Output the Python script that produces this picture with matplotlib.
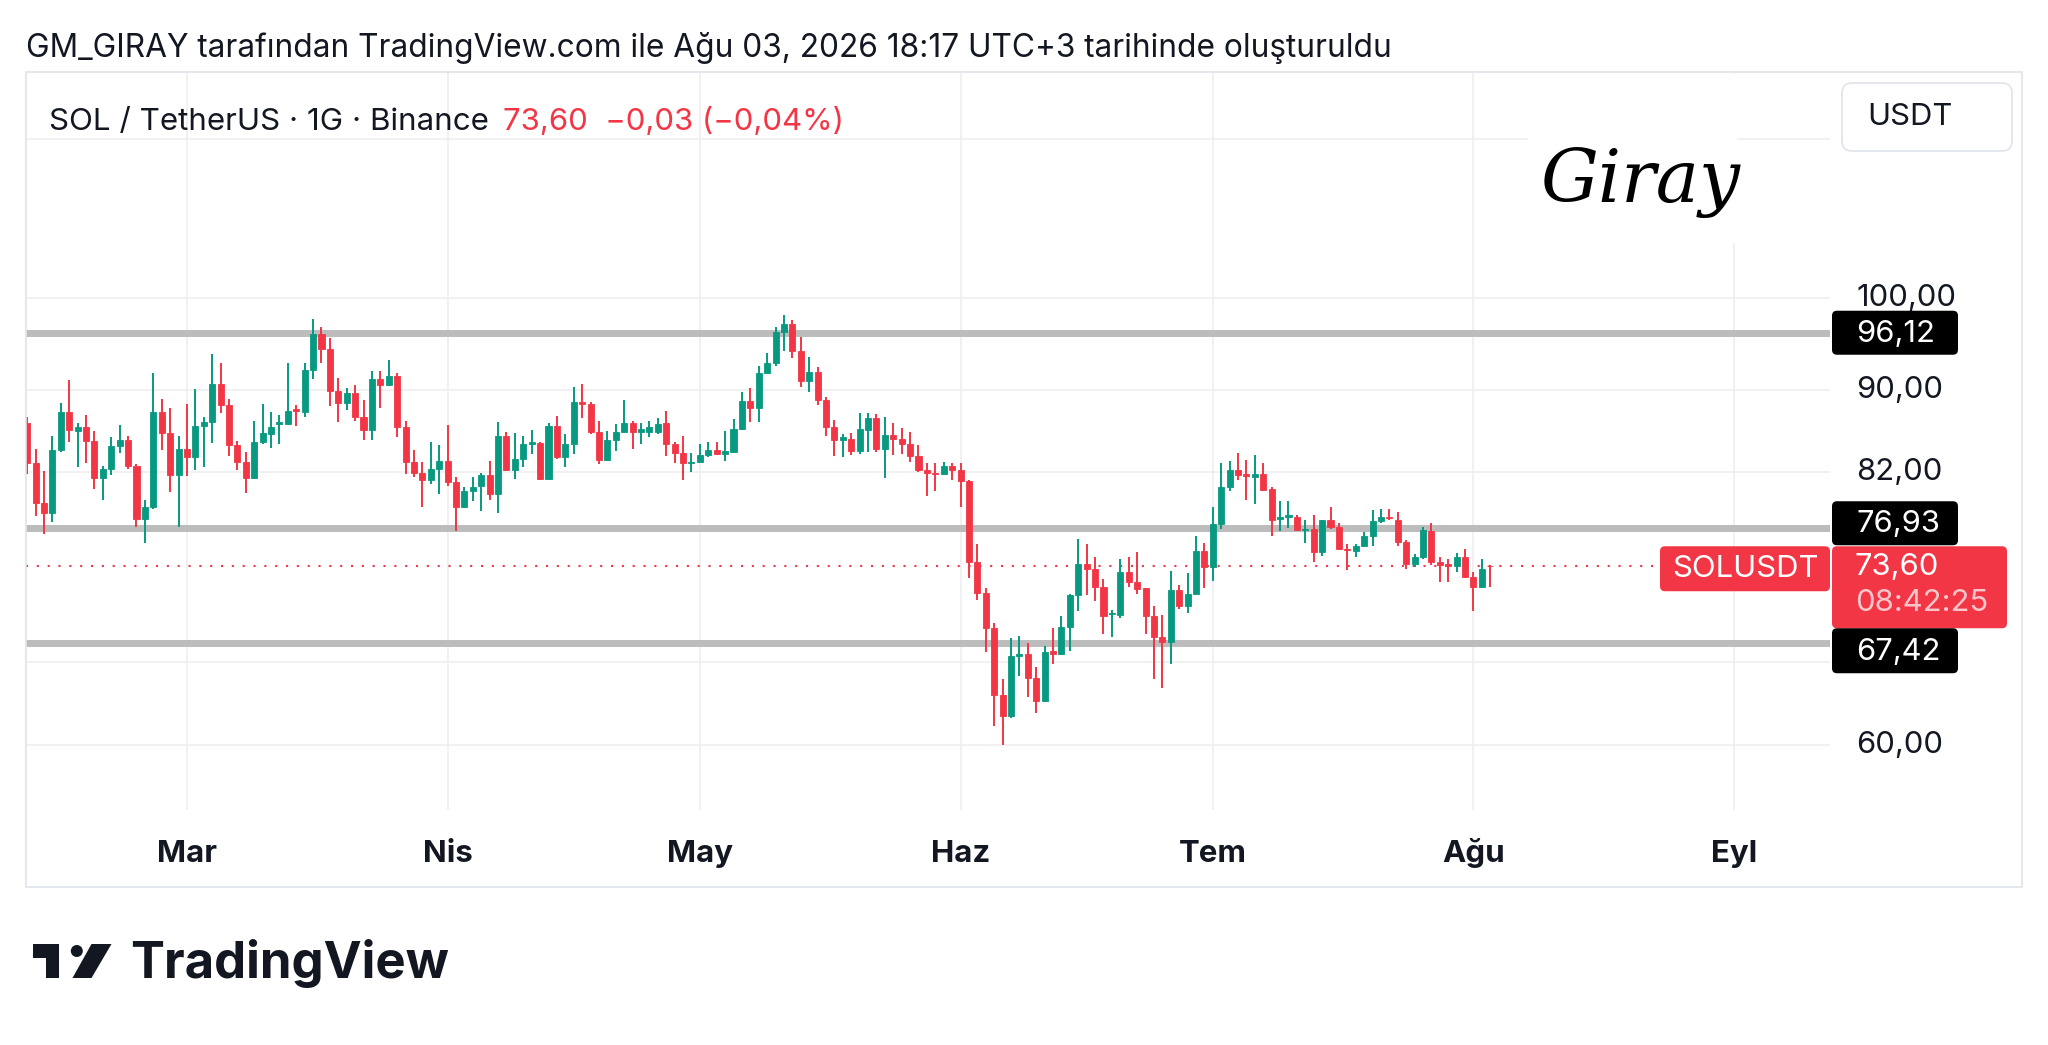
import matplotlib
matplotlib.use("Agg")
import matplotlib.pyplot as plt
import numpy as np
import pandas as pd
from matplotlib.patches import FancyBboxPatch, Rectangle, Circle, Polygon
from matplotlib.transforms import IdentityTransform, blended_transform_factory

plt.rcParams['font.family'] = ['Inter', 'DejaVu Sans']

# ---------------- data ----------------
start_date = "2026-02-10"
opens = [86.7, 82.8, 79.1, 78.2, 84.1, 87.8, 85.9, 86.3, 84.9, 81.4,
         82.3, 84.4, 85.0, 82.5, 77.7, 78.8, 87.8, 85.7, 81.7, 84.2,
         83.4, 86.4, 86.8, 90.6, 88.5, 84.5, 82.9, 81.4, 84.8, 85.6,
         86.6, 86.6, 88.1, 87.8, 92.1, 96.0, 94.4, 89.9, 88.7, 89.7,
         87.3, 86.0, 91.2, 90.5, 91.5, 86.3, 82.9, 81.9, 81.2, 82.3,
         83.0, 81.0, 78.8, 80.2, 80.7, 81.7, 79.9, 85.4, 82.2, 83.2,
         84.6, 84.7, 81.3, 86.4, 83.4, 84.6, 88.8, 88.6, 85.8, 83.1,
         85.0, 85.8, 86.7, 85.8, 85.8, 85.8, 86.7, 84.6, 83.8, 82.8,
         82.9, 83.6, 84.1, 83.7, 83.9, 86.1, 88.9, 88.2, 91.8, 92.9,
         96.2, 97.1, 94.1, 91.0, 91.9, 89.0, 86.3, 85.0, 85.1, 84.0,
         86.0, 87.2, 84.2, 85.5, 85.1, 84.6, 83.5, 82.2, 81.9, 81.8,
         82.5, 82.2, 81.1, 74.0, 71.4, 68.6, 63.5, 62.0, 66.4, 66.6,
         64.8, 63.1, 66.8, 66.6, 68.7, 71.2, 73.8, 73.4, 71.9, 69.7,
         69.6, 73.1, 72.3, 71.8, 69.5, 67.9, 67.5, 71.6, 70.3, 71.3,
         74.9, 73.5, 77.2, 80.6, 82.2, 81.8, 81.5, 81.8, 80.4, 77.7,
         77.85, 77.85, 76.7, 76.8, 74.85, 77.6, 77.0, 75.1, 74.9, 75.3,
         76.2, 77.5, 77.9, 77.6, 75.7, 73.8, 74.35, 76.6, 74.0, 73.8,
         73.65, 74.35, 72.7, 71.9, 73.63]
highs = [87.3, 84.2, 82.1, 85.4, 88.7, 91.1, 86.7, 87.5, 85.9, 82.5,
         85.3, 86.5, 85.4, 82.7, 79.4, 91.8, 89.1, 88.2, 85.4, 88.6,
         90.1, 87.3, 93.8, 92.8, 89.1, 84.9, 83.9, 86.9, 88.6, 87.8,
         87.5, 92.8, 88.5, 92.9, 97.6, 96.8, 95.5, 91.3, 90.2, 90.5,
         89.0, 92.0, 92.0, 93.2, 91.8, 86.9, 84.1, 82.9, 84.8, 84.5,
         86.5, 81.5, 80.6, 81.5, 81.9, 83.0, 86.8, 85.8, 85.7, 85.4,
         86.0, 84.8, 86.7, 87.4, 85.6, 90.3, 90.6, 88.8, 86.9, 85.9,
         86.6, 89.0, 86.9, 86.7, 86.9, 87.2, 87.9, 84.8, 85.4, 83.8,
         84.6, 84.8, 84.8, 85.9, 87.1, 89.8, 90.2, 92.5, 93.9, 96.8,
         98.1, 97.5, 95.7, 93.5, 92.4, 89.3, 87.0, 85.6, 85.7, 87.7,
         87.7, 87.6, 87.3, 86.7, 86.2, 85.8, 84.5, 82.8, 82.8, 82.9,
         82.8, 82.8, 81.2, 75.5, 71.8, 68.95, 64.7, 67.8, 67.95, 67.4,
         65.6, 67.2, 68.6, 69.5, 71.3, 75.9, 75.5, 74.4, 72.5, 70.0,
         74.2, 74.4, 74.8, 71.8, 70.3, 69.6, 73.2, 72.0, 73.0, 76.2,
         75.6, 78.8, 82.8, 83.0, 83.8, 83.1, 83.6, 82.8, 80.6, 79.3,
         79.3, 78.0, 77.6, 78.0, 77.6, 78.8, 77.3, 75.5, 75.5, 76.5,
         78.5, 78.6, 78.6, 78.3, 75.8, 74.6, 77.0, 77.3, 74.4, 74.2,
         74.7, 75.1, 73.1, 74.2, 73.7]
lows = [81.8, 77.95, 76.4, 77.4, 83.9, 84.8, 82.4, 82.8, 80.4, 79.4,
        81.7, 83.8, 82.3, 77.0, 75.6, 78.6, 84.1, 80.1, 77.0, 81.6,
        82.2, 82.4, 84.7, 87.7, 83.5, 82.2, 80.0, 81.3, 84.6, 84.3,
        84.6, 86.5, 86.4, 87.3, 91.2, 92.9, 88.4, 86.8, 88.0, 86.9,
        85.0, 85.0, 88.2, 90.4, 85.3, 81.8, 81.5, 78.8, 80.9, 79.9,
        80.7, 76.6, 78.7, 79.3, 78.4, 79.4, 78.2, 82.1, 81.3, 82.4,
        83.7, 81.2, 81.2, 83.2, 82.4, 83.7, 87.2, 85.6, 82.7, 83.0,
        84.0, 85.8, 84.2, 84.6, 85.3, 85.6, 83.5, 82.8, 81.2, 82.0,
        82.9, 83.4, 83.6, 83.0, 83.9, 86.0, 86.8, 86.8, 91.8, 92.5,
        94.1, 93.4, 90.3, 89.8, 88.5, 85.4, 83.5, 83.4, 83.6, 83.7,
        83.9, 83.9, 81.4, 83.6, 83.7, 82.9, 82.0, 79.8, 80.2, 81.7,
        81.2, 78.8, 72.6, 70.8, 66.7, 61.3, 60.0, 61.9, 64.9, 63.4,
        62.2, 63.0, 65.8, 66.5, 66.8, 69.9, 71.2, 70.7, 68.1, 67.9,
        69.4, 71.9, 71.3, 68.1, 64.7, 64.0, 65.8, 70.1, 69.8, 71.2,
        71.8, 72.4, 76.8, 80.2, 81.2, 79.4, 79.0, 80.2, 76.2, 76.6,
        76.9, 76.6, 75.6, 74.0, 74.5, 76.8, 75.0, 73.3, 74.4, 75.2,
        75.3, 77.3, 77.6, 75.3, 73.4, 73.5, 74.25, 73.7, 72.3, 72.3,
        73.1, 72.6, 69.9, 71.8, 71.9]
closes = [82.8, 79.1, 78.2, 84.1, 87.8, 86.0, 86.3, 84.9, 81.4, 82.3,
          84.4, 85.0, 82.5, 77.7, 78.8, 87.8, 85.7, 81.7, 84.2, 83.4,
          86.4, 86.8, 90.6, 88.5, 84.5, 82.9, 81.4, 84.8, 85.7, 86.3,
          86.8, 87.9, 87.9, 92.1, 96.0, 94.4, 89.9, 88.7, 89.7, 87.3,
          86.0, 91.2, 90.5, 91.5, 86.3, 82.9, 81.9, 81.2, 82.3, 83.0,
          81.0, 78.8, 80.2, 80.6, 81.7, 79.9, 85.4, 82.2, 83.2, 84.6,
          84.8, 81.3, 86.4, 83.4, 84.6, 88.8, 88.6, 85.8, 83.1, 85.0,
          85.8, 86.7, 85.8, 86.1, 86.3, 86.6, 84.6, 83.8, 82.8, 82.9,
          83.6, 84.1, 83.7, 84.0, 86.1, 88.9, 88.2, 91.8, 92.9, 96.2,
          97.1, 94.1, 91.0, 91.9, 89.0, 86.3, 85.0, 85.3, 84.0, 86.1,
          87.2, 84.2, 85.5, 85.1, 84.6, 83.5, 82.2, 81.9, 81.8, 82.5,
          82.2, 81.1, 74.0, 71.4, 68.6, 63.5, 62.0, 66.4, 66.6, 64.8,
          63.1, 66.7, 66.6, 68.7, 71.2, 73.8, 73.4, 71.9, 69.5, 69.8,
          73.1, 72.3, 71.7, 69.5, 67.9, 67.5, 71.6, 70.3, 71.3, 74.9,
          73.5, 77.2, 80.6, 82.2, 81.7, 81.6, 81.8, 80.3, 77.6, 77.9,
          78.0, 76.7, 76.8, 74.85, 77.6, 77.0, 75.1, 75.0, 75.3, 76.2,
          77.5, 77.9, 77.8, 75.7, 73.8, 74.35, 76.7, 74.0, 73.7, 73.65,
          74.35, 72.7, 71.9, 73.4, 73.60]

level_prices = [96.12, 76.93, 67.42]
level_labels = ["96,12", "76,93", "67,42"]
grid_prices = [120, 100, 90, 82, 66, 60]
price_ticks = [100, 90, 82, 60]
price_tick_labels = ["100,00", "90,00", "82,00", "60,00"]
month_starts = ["2026-03-01", "2026-04-01", "2026-05-01", "2026-06-01",
                "2026-07-01", "2026-08-01", "2026-09-01"]
month_labels = ["Mar", "Nis", "May", "Haz", "Tem", "Ağu", "Eyl"]
last_price = 73.60
last_label = "73,60"
countdown = "08:42:25"
symbol = "SOLUSDT"
header_text = "GM_GIRAY tarafından TradingView.com ile Ağu 03, 2026 18:17 UTC+3 tarihinde oluşturuldu"
legend_text = "SOL / TetherUS · 1G · Binance"
legend_price = "73,60  \u22120,03 (\u22120,04%)"

# ---------------- style ----------------
UP = "#089981"
DOWN = "#F23645"
TXT = "#131722"
GRID = "#EEEEEE"
LEVEL = "#BCBCBC"

W, H = 2048, 1045
fig = plt.figure(figsize=(W / 100, H / 100), dpi=100)
fig.patch.set_facecolor("white")
ID = IdentityTransform()
R = fig.canvas.get_renderer()


def fy(y):
    return H - y


def ax_rect(x0, y0, x1, y1):
    return [x0 / W, 1 - y1 / H, (x1 - x0) / W, (y1 - y0) / H]


def box(x0, y0, x1, y1, fc, ec="none", lw=0, r=4, z=5):
    p = FancyBboxPatch((x0 + r, fy(y1) + r), (x1 - x0) - 2 * r, (y1 - y0) - 2 * r,
                       boxstyle=f"round,pad={r},rounding_size={r}",
                       transform=ID, facecolor=fc, edgecolor=ec, lw=lw, zorder=z)
    fig.add_artist(p)
    return p


def text(x, y, s, width=None, size=20, **kw):
    t = fig.text(x, fy(y), s, transform=ID, fontsize=size, **kw)
    if width is not None:
        w = t.get_window_extent(R).width
        t.set_fontsize(size * width / w)
    return t


ax = fig.add_axes(ax_rect(26, 72, 1830, 810))
ax.set_yscale("log")
ax.set_xlim(-0.14, 214.4)
ax.set_ylim(55.7, 129.5)
ax.axis("off")

start = pd.Timestamp(start_date)
x = np.arange(len(opens))
o = np.array(opens); h = np.array(highs); l = np.array(lows); c = np.array(closes)
up = c >= o
cols = np.where(up, UP, DOWN)

month_x = [(pd.Timestamp(m) - start).days for m in month_starts]

# grid
for p in grid_prices:
    ax.axhline(p, color=GRID, lw=1.1, zorder=0)
for mx in month_x:
    ax.axvline(mx, color=GRID, lw=1.1, zorder=0)

# horizontal levels
for p in level_prices:
    ax.axhline(p, color=LEVEL, lw=5.0, zorder=1, solid_capstyle="butt")

# last price dotted line
ax.axhline(last_price, xmax=(1660 - 26) / (1830 - 26), color=DOWN, lw=1.5,
           ls=(0, (1, 4.2)), zorder=2)

# candles
ax.vlines(x, l, h, colors=cols, lw=1.4, zorder=3)
ax.bar(x, np.maximum(np.abs(c - o), 0.001), bottom=np.minimum(o, c), width=0.72,
       color=cols, edgecolor=cols, lw=0.6, zorder=4)


def py(p):
    return H - ax.transData.transform((0, p))[1]


# ---- signature white area ----
fig.add_artist(Rectangle((1528, fy(243)), 209, 243 - 74, transform=ID,
                         facecolor="white", edgecolor="none", zorder=2))
text(1640, 182, "Giray", width=200, size=50, ha="center", va="center",
     family="DejaVu Serif", style="italic", color="black", zorder=3)

# ---- header texts ----
text(26, 57, header_text, width=1366, size=20, ha="left", va="baseline", color=TXT)
text(49, 130, legend_text, width=440, size=22, ha="left", va="baseline", color=TXT)
text(503, 130, legend_price, width=341, size=22, ha="left", va="baseline", color=DOWN)

# ---- time axis labels ----
tt = blended_transform_factory(ax.transData, ID)
ref = fig.text(0, 0, "Mar", fontsize=23, weight="bold")
fs_time = 23 * 60 / ref.get_window_extent(R).width
ref.remove()
for mx, lab in zip(month_x, month_labels):
    fig.text(mx, fy(862), lab, transform=tt, ha="center", va="baseline",
             fontsize=fs_time, weight="bold", color=TXT)

# ---- price axis labels ----
ref = fig.text(0, 0, "60,00", fontsize=22)
fs_price = 22 * 87 / ref.get_window_extent(R).width
ref.remove()
for p, lab in zip(price_ticks, price_tick_labels):
    text(1856, py(p), lab, size=fs_price, ha="left", va="center", color=TXT, zorder=4)

# USDT box
box(1842, 83, 2012, 151, "white", ec="#E0E3EB", lw=1.2, r=10, z=5)
text(1867, 117, "USDT", size=fs_price, ha="left", va="center", color=TXT, zorder=6)

# last price boxes
yc = py(last_price)
red_top, red_bot = yc - 20, yc + 62
box(1832, red_top, 2007, red_bot, DOWN, r=5, z=6)
text(1855, red_top + 21, last_label, size=fs_price, ha="left", va="center",
     color="white", zorder=7)
text(1855, red_top + 57, countdown, size=fs_price, ha="left", va="center",
     color=(1, 1, 1, 0.72), zorder=7)
box(1660, red_top, 1830, red_top + 45, DOWN, r=5, z=6)
text(1745, red_top + 23, symbol, size=fs_price, ha="center", va="center",
     color="white", zorder=7)

# level boxes (pushed away from red box)
for p, lab in zip(level_prices, level_labels):
    yy = py(p)
    top, bot = yy - 22, yy + 22
    if bot > red_top and top < red_bot:
        if yy < yc:
            bot = red_top - 1; top = bot - 44
        else:
            top = red_bot; bot = top + 45
    box(1832, top, 1958, bot, "black", r=5, z=6)
    text(1856, (top + bot) / 2 + 1, lab, size=fs_price, ha="left", va="center",
         color="white", zorder=7)

# chart border
fig.add_artist(Rectangle((26, fy(887)), 2022 - 26, 887 - 72, transform=ID,
                         facecolor="none", edgecolor="#E0E3EB", lw=1.2, zorder=8))

# ---- TradingView logo ----
LOGO = "#131722"
fig.add_artist(Rectangle((32.7, fy(958.3)), 26.6, 14.3, transform=ID, fc=LOGO, ec="none"))
fig.add_artist(Rectangle((46, fy(978)), 13.3, 34, transform=ID, fc=LOGO, ec="none"))
fig.add_artist(Circle((76.8, fy(951)), 6.0, transform=ID, fc=LOGO, ec="none"))
fig.add_artist(Polygon([(91.5, fy(944)), (111.5, fy(944)), (91.5, fy(978)), (72.5, fy(978))],
                       closed=True, transform=ID, fc=LOGO, ec="none"))
text(130, 978, "TradingView", width=320, size=34, ha="left", va="baseline",
     weight="bold", color=LOGO)

fig.savefig("out.png", dpi=100, facecolor="white")
